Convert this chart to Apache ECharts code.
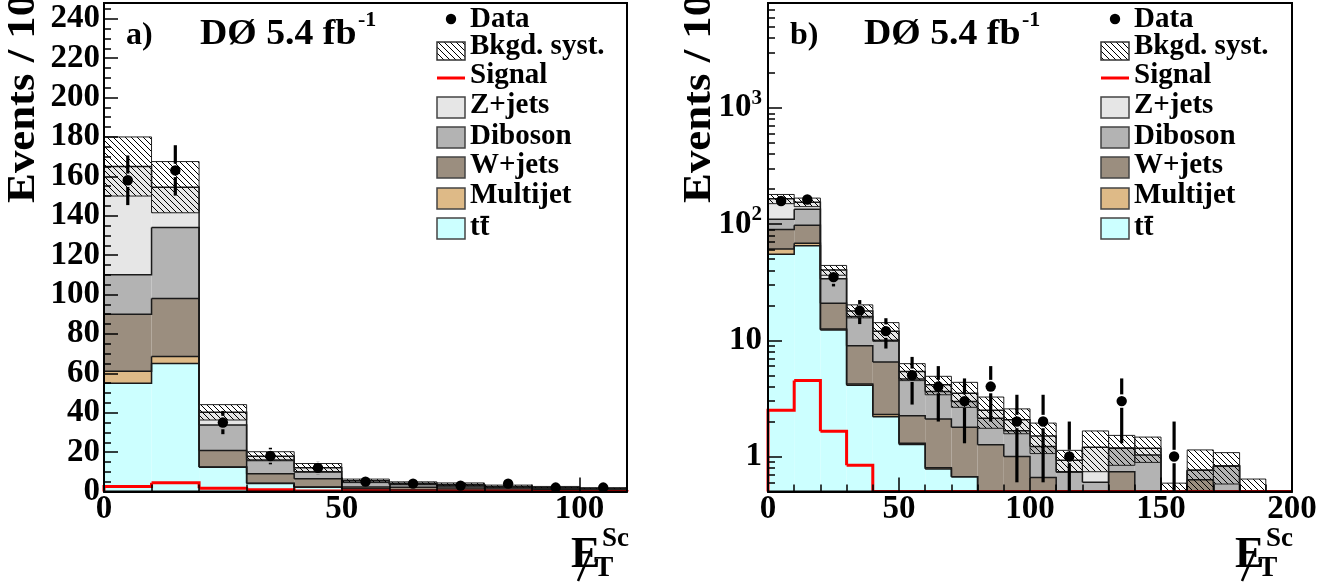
<!DOCTYPE html>
<html>
<head>
<meta charset="utf-8">
<script src="https://cdn.jsdelivr.net/npm/echarts@6.0.0/dist/echarts.min.js"></script>
<style>html,body{margin:0;padding:0;background:#fff;}#chart{width:1342px;height:588px;}</style>
</head>
<body>
<div id="chart"></div>
<script>
// ---------------- data ----------------
const binEdges   = [0,10,20,30,40,50,60,70,80,90,100,110,120,130,140,150,160,170,180,190,200];
const ttbar      = [55, 65, 12.3, 4.1, 2.2, 1.27, 0.78, 0.67, 0.3, 0.2, 0.15, 0.1, 0.05, 0.02, 0, 0, 0, 0, 0, 0];
const multijet   = [6, 3.5, 0.2, 0.1, 0.1, 0.03, 0.02, 0, 0, 0, 0, 0, 0, 0, 0, 0, 0, 0, 0, 0];
const wjets      = [29, 29.5, 8.3, 4.8, 4.2, 0.94, 1.3, 1.12, 0.96, 0.8, 0.51, 0.3, 0.3, 0.72, 0.3, 0.1, 0.63, 0.05, 0, 0];
const diboson    = [20, 36, 13, 7, 3.5, 2.41, 1.53, 1.19, 0.88, 0.67, 0.56, 0.34, 0.25, 0.44, 0.73, 0.15, 0.13, 0.78, 0.25, 0];
const zjets      = [55, 20.5, 6.4, 1.9, 2.0, 0.75, 0.52, 0.52, 0.36, 0.4, 0.28, 0.19, 0.6, 0, 0.15, 0.05, 0, 0, 0.1, 0];
const bkgSyst    = [15, 13, 3.9, 2.3, 2.2, 0.9, 0.75, 0.85, 0.75, 0.5, 0.44, 0.2, 0.46, 0.34, 0.29, 0.29, 0.38, 0.25, 0.29, 0];
const signal     = [2.5, 4.5, 1.65, 0.84, 0.3, 0.2, 0.15, 0.1, 0.1, 0.05, 0.05, 0.03, 0.03, 0.02, 0.02, 0.01, 0.01, 0.01, 0.01, 0.01];
const dataCounts = [158, 163, 35, 18, 12, 5, 4, 3, 4, 2, 2, 1, 0, 3, 0, 1, 0, 0, 0, 0];
const dataErrors = [12.6, 12.8, 5.9, 4.2, 3.5, 2.2, 2.0, 1.7, 2.0, 1.4, 1.4, 1.0, 0, 1.7, 0, 1.0, 0, 0, 0, 0];

const legendLabels = ['Data', 'Bkgd. syst.', 'Signal', 'Z+jets', 'Diboson', 'W+jets', 'Multijet', 'tt\u0304'];
const panelTags    = ['a)', 'b)'];
const lumiText     = 'D\u00D8 5.4 fb';
const lumiSup      = '-1';
const yTitle       = 'Events / 10';

const xTicksMajorA = [0, 50, 100];
const xTickLabelsA = ['0', '50', '100'];
const xTicksMinorA = [10, 20, 30, 40, 60, 70, 80, 90];
const yTicksMajorA = [0, 20, 40, 60, 80, 100, 120, 140, 160, 180, 200, 220, 240];
const yTickLabelsA = ['0','20','40','60','80','100','120','140','160','180','200','220','240'];
const yTicksMinorA = [5,10,15,25,30,35,45,50,55,65,70,75,85,90,95,105,110,115,125,130,135,145,150,155,165,170,175,185,190,195,205,210,215,225,230,235,245];
const xTicksMajorB = [0, 50, 100, 150, 200];
const xTickLabelsB = ['0', '50', '100', '150', '200'];
const xTicksMinorB = [10,20,30,40,60,70,80,90,110,120,130,140,160,170,180,190];
const yTicksMajorB = [1, 10, 100, 1000];
const yTickLabelsB = ['1', '10', '10^2', '10^3'];
const yTicksMinorB = [0.6,0.7,0.8,0.9,2,3,4,5,6,7,8,9,20,30,40,50,60,70,80,90,200,300,400,500,600,700,800,900,2000,3000,4000,5000,6000,7000,8000];

// ---------------- styles / layout ----------------
const LOG_MIN = 0.5, LOG_MAX = 8000, LIN_MAX = 248;
const FONT = 'Liberation Serif';
const layerVals   = [ttbar, multijet, wjets, diboson, zjets];
const layerColors = ['#ccffff', '#deba87', '#9b8e7f', '#b3b3b3', '#e6e6e6'];
const GA = {left: 104, top: 3, width: 523, height: 488.5};
const GB = {left: 768, top: 3, width: 524, height: 488.5};

function makeHatch() {
  const c = document.createElement('canvas');
  c.width = 6; c.height = 6;
  const g = c.getContext('2d');
  g.strokeStyle = '#000'; g.lineWidth = 1;
  g.beginPath();
  g.moveTo(-1, -1); g.lineTo(7, 7);
  g.moveTo(-1, 5); g.lineTo(1, 7);
  g.moveTo(5, -1); g.lineTo(7, 1);
  g.stroke();
  return c;
}
const hatchCanvas = makeHatch();
const hatchFill = () => ({image: hatchCanvas, repeat: 'repeat'});

// cumulative stack
const nBins = binEdges.length - 1;
const base = [], cum = [];
let run = new Array(nBins).fill(0);
for (let k = 0; k < layerVals.length; k++) {
  base.push(run.slice());
  run = run.map((v, i) => v + layerVals[k][i]);
  cum.push(run.slice());
}
const total = run;

const panels = [
  {xi: 0, yi: 0, log: false},
  {xi: 2, yi: 2, log: true}
];
function yc(p, v) { return p.log ? Math.max(v, LOG_MIN) : Math.max(v, 0); }
function clipRect(x0, y0, x1, y1, cs) {
  const l = Math.max(Math.min(x0, x1), cs.x), r = Math.min(Math.max(x0, x1), cs.x + cs.width);
  const t = Math.max(Math.min(y0, y1), cs.y), b = Math.min(Math.max(y0, y1), cs.y + cs.height);
  if (r <= l || b <= t) return null;
  return {x: l, y: t, width: r - l, height: b - t};
}

function fillSeries(p, k) {
  return {
    type: 'custom', xAxisIndex: p.xi, yAxisIndex: p.yi, silent: true, z: 2,
    data: layerVals[k].map((v, i) => [binEdges[i], binEdges[i + 1], base[k][i], cum[k][i]]),
    renderItem: (params, api) => {
      const lo = yc(p, api.value(2)), hi = yc(p, api.value(3));
      if (!(hi > lo)) return null;
      const a = api.coord([api.value(0), lo]), b = api.coord([api.value(1), hi]);
      const r = clipRect(a[0], a[1], b[0], b[1], params.coordSys);
      return r ? {type: 'rect', shape: r, style: {fill: layerColors[k]}} : null;
    }
  };
}

function stepSeries(p, vals, stroke, width, z) {
  return {
    type: 'custom', xAxisIndex: p.xi, yAxisIndex: p.yi, silent: true, z: z,
    data: vals.map((v, i) => [binEdges[i], binEdges[i + 1], v, i + 1 < vals.length ? vals[i + 1] : 0, i === 0 ? 1 : 0]),
    renderItem: (params, api) => {
      const cs = params.coordSys;
      const xr = cs.x + cs.width + 0.5;
      const h = yc(p, api.value(2)), hn = yc(p, api.value(3));
      const A = api.coord([api.value(0), h]);
      if (A[0] >= xr - 1) return null;
      const B = api.coord([api.value(1), h]), Cn = api.coord([api.value(1), hn]);
      const pts = [];
      if (api.value(4)) pts.push(api.coord([api.value(0), yc(p, 0)]));
      pts.push(A);
      if (B[0] <= xr) { pts.push(B); pts.push(Cn); } else { pts.push([xr - 0.5, A[1]]); }
      return {type: 'polyline', shape: {points: pts}, style: {stroke: stroke, lineWidth: width, fill: null}};
    }
  };
}

function bandSeries(p) {
  return {
    type: 'custom', xAxisIndex: p.xi, yAxisIndex: p.yi, silent: true, z: 4,
    data: total.map((t, i) => [binEdges[i], binEdges[i + 1], t, bkgSyst[i]]),
    renderItem: (params, api) => {
      const t = api.value(2), s = api.value(3);
      if (!(s > 0)) return null;
      const lo = yc(p, t - s), hi = yc(p, t + s);
      if (!(hi > lo)) return null;
      const a = api.coord([api.value(0), lo]), b = api.coord([api.value(1), hi]);
      const r = clipRect(a[0], a[1], b[0], b[1], params.coordSys);
      return r ? {type: 'rect', shape: r, style: {fill: hatchFill(), stroke: '#222', lineWidth: 1}} : null;
    }
  };
}

function dataSeries(p) {
  return {
    type: 'custom', xAxisIndex: p.xi, yAxisIndex: p.yi, silent: true, z: 6,
    data: dataCounts.map((n, i) => [(binEdges[i] + binEdges[i + 1]) / 2, n, dataErrors[i]]),
    renderItem: (params, api) => {
      const cs = params.coordSys;
      const x = api.value(0), n = api.value(1), e = api.value(2);
      if (!(n > 0)) return null;
      const c = api.coord([x, n]);
      if (c[0] > cs.x + cs.width) return null;
      const up = api.coord([x, n + e]), dn = api.coord([x, yc(p, n - e)]);
      const r = 5.2, gap = r + 1.5;
      const kids = [{type: 'circle', shape: {cx: c[0], cy: c[1], r: r}, style: {fill: '#000'}}];
      if (c[1] - gap > up[1]) kids.push({type: 'line', shape: {x1: c[0], y1: up[1], x2: c[0], y2: c[1] - gap}, style: {stroke: '#000', lineWidth: 3.2}});
      if (dn[1] > c[1] + gap) kids.push({type: 'line', shape: {x1: c[0], y1: c[1] + gap, x2: c[0], y2: Math.min(dn[1], cs.y + cs.height)}, style: {stroke: '#000', lineWidth: 3.2}});
      return {type: 'group', children: kids};
    }
  };
}

const series = [];
panels.forEach(p => {
  for (let k = 0; k < layerVals.length; k++) series.push(fillSeries(p, k));
  for (let k = 0; k < layerVals.length; k++) series.push(stepSeries(p, cum[k], '#1a1a1a', 1.5, 3));
  series.push(bandSeries(p));
  series.push(stepSeries(p, signal, '#ff0000', 3, 5));
  series.push(dataSeries(p));
});

// ---------------- axes ----------------
const labelFont = {fontFamily: FONT, fontWeight: 'bold', fontSize: 33, color: '#000'};
function lab(vals, labels) { return v => { const i = vals.findIndex(t => Math.abs(t - v) < 1e-6 * Math.max(1, Math.abs(t))); return i >= 0 ? labels[i] : ''; }; }
function majorAxis(extra) {
  return Object.assign({
    type: 'value', z: 10, splitLine: {show: false},
    axisLine: {show: true, onZero: false, lineStyle: {color: '#000', width: 2}},
  }, extra);
}
function minorAxis(extra) {
  return Object.assign({
    type: 'value', z: 10, splitLine: {show: false},
    axisLine: {show: false, onZero: false},
    axisLabel: {show: false}
  }, extra);
}
const xAxis = [
  majorAxis({gridIndex: 0, min: 0, max: 110, position: 'bottom',
    axisTick: {show: true, inside: true, length: 14, lineStyle: {color: '#000', width: 1.5}, customValues: xTicksMajorA},
    axisLabel: Object.assign({show: true, margin: 1, customValues: xTicksMajorA, formatter: lab(xTicksMajorA, xTickLabelsA)}, labelFont)}),
  minorAxis({gridIndex: 0, min: 0, max: 110, position: 'bottom',
    axisTick: {show: true, inside: true, length: 7, lineStyle: {color: '#000', width: 1.5}, customValues: xTicksMinorA}}),
  majorAxis({gridIndex: 1, min: 0, max: 200, position: 'bottom',
    axisTick: {show: true, inside: true, length: 14, lineStyle: {color: '#000', width: 1.5}, customValues: xTicksMajorB},
    axisLabel: Object.assign({show: true, margin: 1, customValues: xTicksMajorB, formatter: lab(xTicksMajorB, xTickLabelsB)}, labelFont)}),
  minorAxis({gridIndex: 1, min: 0, max: 200, position: 'bottom',
    axisTick: {show: true, inside: true, length: 7, lineStyle: {color: '#000', width: 1.5}, customValues: xTicksMinorB}})
];
const logRich = {
  b: {fontFamily: FONT, fontWeight: 'bold', fontSize: 33, lineHeight: 40, color: '#000'},
  s: {fontFamily: FONT, fontWeight: 'bold', fontSize: 21, lineHeight: 21, verticalAlign: 'top', color: '#000'}
};
function logLabel(v) {
  const i = yTicksMajorB.findIndex(t => Math.abs(Math.log10(t) - Math.log10(v)) < 1e-6);
  if (i < 0) return '';
  const parts = yTickLabelsB[i].split('^');
  return '{b|' + parts[0] + '}' + (parts[1] ? '{s|' + parts[1] + '}' : '');
}
const yAxis = [
  majorAxis({gridIndex: 0, min: 0, max: LIN_MAX, position: 'left',
    axisTick: {show: true, inside: true, length: 14, lineStyle: {color: '#000', width: 1.5}, customValues: yTicksMajorA},
    axisLabel: Object.assign({show: true, margin: 4, customValues: yTicksMajorA, formatter: lab(yTicksMajorA, yTickLabelsA)}, labelFont)}),
  minorAxis({gridIndex: 0, min: 0, max: LIN_MAX, position: 'left',
    axisTick: {show: true, inside: true, length: 7, lineStyle: {color: '#000', width: 1.5}, customValues: yTicksMinorA}}),
  majorAxis({gridIndex: 1, type: 'log', logBase: 10, min: LOG_MIN, max: LOG_MAX, position: 'left',
    axisTick: {show: true, inside: true, length: 14, lineStyle: {color: '#000', width: 1.5}, customValues: yTicksMajorB},
    axisLabel: {show: true, margin: 6, customValues: yTicksMajorB, formatter: logLabel, rich: logRich}}),
  minorAxis({gridIndex: 1, type: 'log', logBase: 10, min: LOG_MIN, max: LOG_MAX, position: 'left',
    axisTick: {show: true, inside: true, length: 7, lineStyle: {color: '#000', width: 1.5}, customValues: yTicksMinorB}})
];

// ---------------- decorations: titles, legends, axis titles ----------------
function txt(x, y, text, size, opts) {
  opts = opts || {};
  return Object.assign({
    type: 'text', x: x, y: y, z: 50, silent: true,
    style: {text: text, fill: '#000', fontFamily: FONT, fontWeight: 'bold', fontSize: size,
      align: opts.align || 'left', textAlign: opts.align || 'left',
      verticalAlign: 'middle', textVerticalAlign: 'middle'}
  }, opts.el || {});
}
const graphic = [];
[GA, GB].forEach((G, pi) => {
  const dx = G.left - GA.left;
  // frame
  graphic.push({type: 'rect', z: 40, silent: true, shape: {x: G.left, y: G.top, width: G.width, height: G.height},
    style: {fill: null, stroke: '#000', lineWidth: 2}});
  // panel tag and luminosity
  graphic.push(txt(126 + dx, 36, panelTags[pi], 32));
  graphic.push(txt(200 + dx, 35, lumiText, 35, {el: {scaleX: 1.08}}));
  graphic.push(txt(358 + dx, 20, lumiSup, 22));
  // legend
  const bx = 437 + dx, tx = 470 + dx, bw = 28;
  const rowsY = [20, 47, 76, 106, 137, 166, 196, 228];
  graphic.push({type: 'circle', z: 50, silent: true, shape: {cx: bx + 14, cy: 19, r: 5.2}, style: {fill: '#000'}});
  graphic.push({type: 'rect', z: 50, silent: true, shape: {x: bx, y: 42, width: bw, height: 18}, style: {fill: hatchFill(), stroke: '#333', lineWidth: 1.5}});
  graphic.push({type: 'line', z: 50, silent: true, shape: {x1: bx, y1: 78, x2: bx + bw, y2: 78}, style: {stroke: '#ff0000', lineWidth: 3}});
  const boxY = [97, 127, 157, 188, 218];
  const boxColors = [layerColors[4], layerColors[3], layerColors[2], layerColors[1], layerColors[0]];
  boxY.forEach((y, j) => graphic.push({type: 'rect', z: 50, silent: true, shape: {x: bx, y: y, width: bw, height: 21},
    style: {fill: boxColors[j], stroke: '#444', lineWidth: 1.5}}));
  legendLabels.forEach((l, j) => graphic.push(txt(tx, rowsY[j], l, 29)));
  // y axis title
  const ytx = pi === 0 ? 24 : 700;
  graphic.push(txt(ytx, 203, yTitle, 40, {el: {rotation: Math.PI / 2, scaleX: 1.12}}));
  // x axis title: missing E_T with superscript Sc
  graphic.push(txt(571 + dx, 556, 'E', 44));
  graphic.push(txt(594 + dx, 569, 'T', 29));
  graphic.push(txt(602 + dx, 539, 'Sc', 27));
  graphic.push({type: 'line', z: 51, silent: true, shape: {x1: 578 + dx, y1: 581, x2: 590 + dx, y2: 553}, style: {stroke: '#000', lineWidth: 2.5}});
});

const chart = echarts.init(document.getElementById('chart'), null, {renderer: 'canvas'});
chart.setOption({
  animation: false,
  backgroundColor: '#fff',
  grid: [
    Object.assign({show: false, containLabel: false}, GA),
    Object.assign({show: false, containLabel: false}, GB)
  ],
  xAxis: xAxis,
  yAxis: yAxis,
  series: series,
  graphic: graphic
});
</script>
</body>
</html>
